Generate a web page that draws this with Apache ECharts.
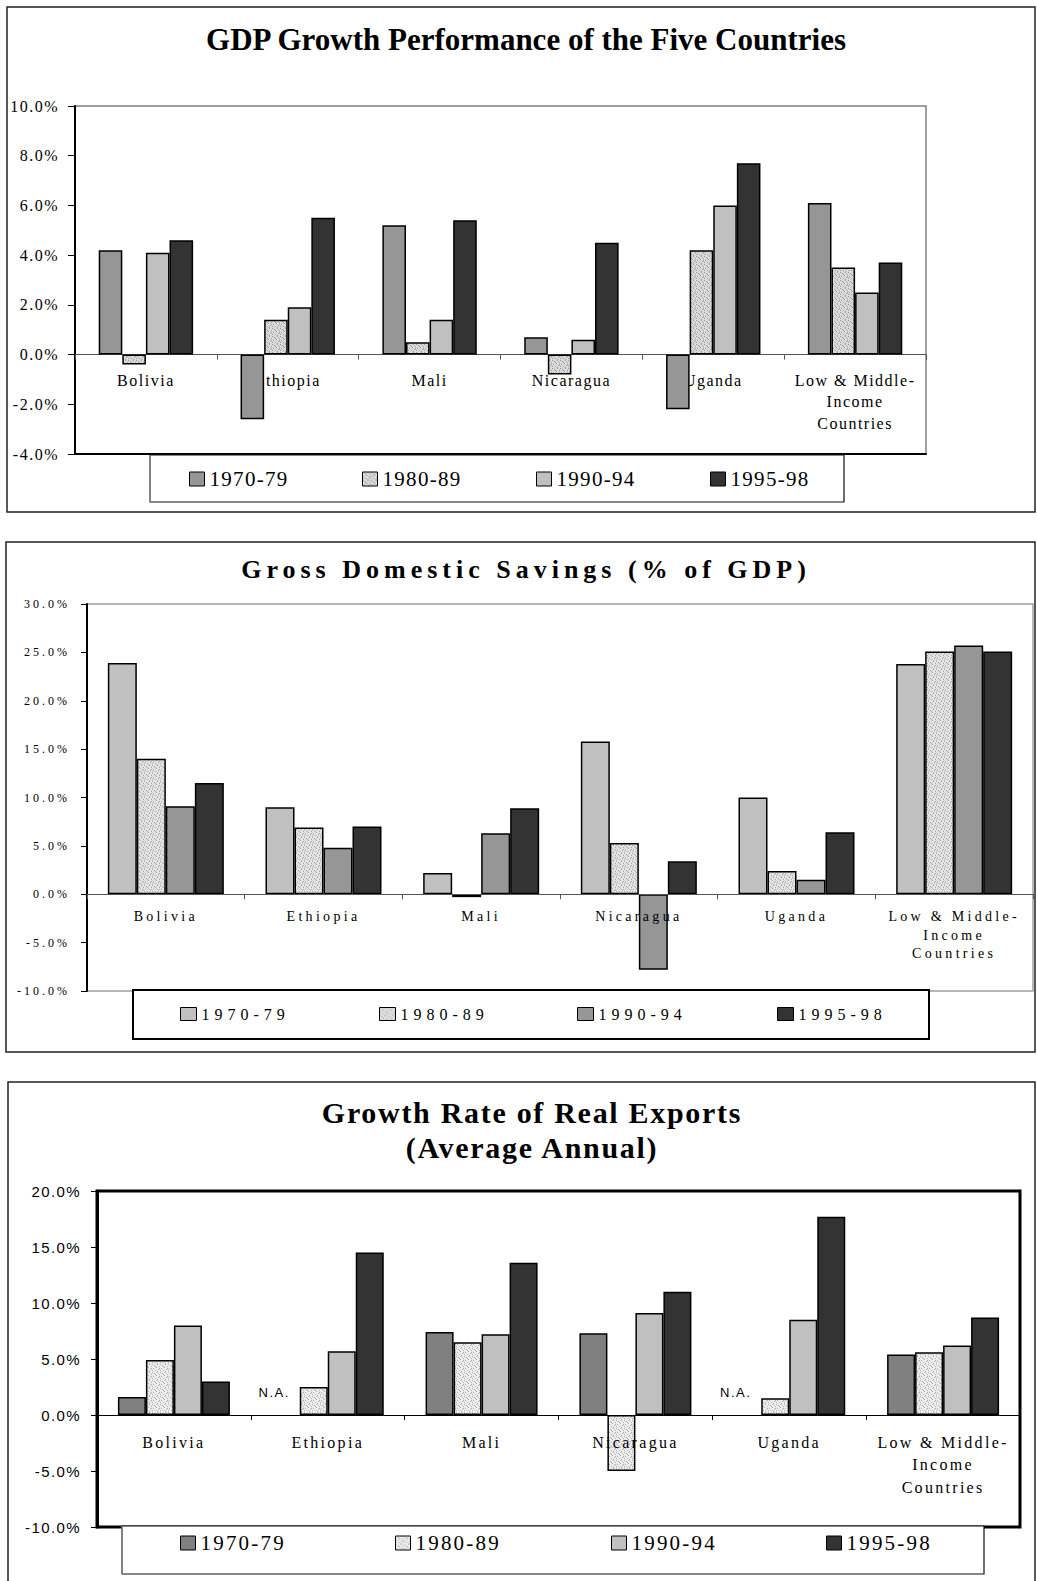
<!DOCTYPE html>
<html>
<head>
<meta charset="utf-8">
<title>Five Countries: GDP Growth, Savings and Exports</title>
<script src="https://cdn.jsdelivr.net/npm/echarts@6/dist/echarts.min.js"></script>
<style>
  html, body { margin: 0; padding: 0; background: #fff; }
  .panel { position: absolute; left: 0; width: 1037px; }
  #gdp { top: 0; height: 525px; }
  #sav { top: 525px; height: 535px; }
  #exp { top: 1060px; height: 521px; }
  /* tracking of the typeset labels, chosen per font size */
  #gdp text[style*="16px"] { letter-spacing: 1.5px; }
  #gdp text[style*="21px"] { letter-spacing: 1.3px; }
  #sav text[style*="26px"] { letter-spacing: 5px; }
  #sav text[style*="12px"] { letter-spacing: 3px; }
  #sav text[style*="14px"] { letter-spacing: 3.3px; }
  #sav text[style*="16px"] { letter-spacing: 5px; }
  #exp text[style*="30px"] { letter-spacing: 1.7px; }
  #exp text[style*="15px"] { letter-spacing: 1.4px; }
  #exp text[style*="16px"] { letter-spacing: 2.3px; }
  #exp text[style*="21px"] { letter-spacing: 2.2px; }
  #exp text[style*="13px"] { letter-spacing: 1.5px; }
</style>
</head>
<body>
<div id="gdp" class="panel"></div>
<div id="sav" class="panel"></div>
<div id="exp" class="panel"></div>
<script>
// ---- data ----
const categories = ['Bolivia', 'Ethiopia', 'Mali', 'Nicaragua', 'Uganda', 'Low & Middle-\nIncome\nCountries'];
const periods = ['1970-79', '1980-89', '1990-94', '1995-98'];

// GDP growth, average annual (%)
const gdp7079 = [4.2, -2.6, 5.2, 0.7, -2.2, 6.1];
const gdp8089 = [-0.4, 1.4, 0.5, -0.8, 4.2, 3.5];
const gdp9094 = [4.1, 1.9, 1.4, 0.6, 6.0, 2.5];
const gdp9598 = [4.6, 5.5, 5.4, 4.5, 7.7, 3.7];
const gdpTicks = [-4, -2, 0, 2, 4, 6, 8, 10];

// Gross domestic savings (% of GDP)
const sav7079 = [23.9, 9.0, 2.2, 15.8, 10.0, 23.8];
const sav8089 = [14.0, 6.9, -0.3, 5.3, 2.4, 25.1];
const sav9094 = [9.1, 4.8, 6.3, -7.8, 1.5, 25.7];
const sav9598 = [11.5, 7.0, 8.9, 3.4, 6.4, 25.1];
const savTicks = [-10, -5, 0, 5, 10, 15, 20, 25, 30];

// Growth rate of real exports, average annual (%); null = not available
const exp7079 = [1.6, null, 7.4, 7.3, null, 5.4];
const exp8089 = [4.9, 2.5, 6.5, -5.0, 1.5, 5.6];
const exp9094 = [8.0, 5.7, 7.2, 9.1, 8.5, 6.2];
const exp9598 = [3.0, 14.5, 13.6, 11.0, 17.7, 8.7];
const expTicks = [-10, -5, 0, 5, 10, 15, 20];
const notAvailable = 'N.A.';

// ---- styling helpers ----
const SERIF = 'Liberation Serif';
const SANS = 'Liberation Sans';
const pct = v => v.toFixed(1) + '%';

// fine stipple fill used for the 1980-89 bars
function stipple(bg, dot) {
  const c = document.createElement('canvas');
  c.width = 8; c.height = 8;
  const g = c.getContext('2d');
  g.fillStyle = bg; g.fillRect(0, 0, 8, 8);
  g.fillStyle = dot;
  [[0, 0], [5, 0], [2, 1], [7, 2], [4, 3], [1, 4], [6, 5], [3, 6], [0, 6], [5, 7], [3, 2], [7, 4]]
    .forEach(([x, y]) => g.fillRect(x, y, 1, 1));
  return { image: c, repeat: 'repeat' };
}

function bars(seriesValues, colors, width) {
  return seriesValues.map((values, i) => ({
    name: periods[i],
    type: 'bar',
    data: values,
    barWidth: width,
    barGap: '0%',
    itemStyle: { color: colors[i], borderColor: '#000', borderWidth: 1.5 },
    emphasis: { disabled: true }
  }));
}

function legends(lefts, top, iw, ih, fontSize) {
  return periods.map((p, i) => ({
    data: [p],
    left: lefts[i],
    top: top,
    padding: 0,
    itemWidth: iw,
    itemHeight: ih,
    icon: 'rect',
    selectedMode: false,
    itemStyle: { borderColor: '#000', borderWidth: 1 },
    textStyle: { fontFamily: SERIF, fontSize: fontSize, color: '#000' }
  }));
}

function valueAxis(ticks, opts) {
  return {
    type: 'value',
    min: ticks[0],
    max: ticks[ticks.length - 1],
    interval: ticks[1] - ticks[0],
    splitLine: { show: false },
    axisLine: { show: true, lineStyle: { color: '#000', width: opts.lineWidth } },
    axisTick: { show: true, inside: false, length: opts.tickLen, lineStyle: { color: '#000', width: 1 } },
    axisLabel: {
      formatter: pct, margin: opts.margin,
      fontFamily: opts.font, fontSize: opts.fontSize, color: '#000'
    }
  };
}

// category axis drawn along the zero line of the value axis, labels included
function categoryAxis(ticks, gridHeight, opts) {
  const lo = ticks[0], hi = ticks[ticks.length - 1];
  const zeroRise = gridHeight * (0 - lo) / (hi - lo);
  return {
    type: 'category',
    data: categories,
    position: 'bottom',
    offset: -zeroRise,
    z: opts.z,
    axisLine: { onZero: false, lineStyle: { color: opts.lineColor, width: 1 } },
    axisTick: { show: true, length: 5, lineStyle: { color: opts.lineColor, width: 1 } },
    axisLabel: {
      interval: 0, margin: opts.margin,
      fontFamily: SERIF, fontSize: opts.fontSize, lineHeight: opts.lineHeight, color: '#000'
    }
  };
}

function frame(x, y, w, h) {
  return { type: 'rect', silent: true, z: 0, shape: { x: x, y: y, width: w, height: h },
           style: { fill: 'none', stroke: '#222', lineWidth: 1.5 } };
}

// ---- chart 1: GDP growth ----
const gdpChart = echarts.init(document.getElementById('gdp'), null, { renderer: 'svg' });
gdpChart.setOption({
  animation: false,
  title: {
    text: 'GDP Growth Performance of the Five Countries',
    left: 526, top: 24, textAlign: 'center', padding: 0,
    textStyle: { fontFamily: SERIF, fontWeight: 'bold', fontSize: 31, color: '#000' }
  },
  grid: { left: 75, top: 106, width: 851, height: 348, show: true,
          borderColor: '#808080', borderWidth: 1.5, outerBoundsMode: 'none' },
  xAxis: [
    categoryAxis(gdpTicks, 348, { z: 0, lineColor: '#555', margin: 15, fontSize: 16, lineHeight: 21.5 }),
    { type: 'category', data: categories, position: 'bottom', offset: 0,
      axisLine: { onZero: false, lineStyle: { color: '#000', width: 2 } },
      axisTick: { show: false }, axisLabel: { show: false } }
  ],
  yAxis: valueAxis(gdpTicks, { lineWidth: 2, tickLen: 7, margin: 16, font: SERIF, fontSize: 16 }),
  legend: legends([189, 362, 536, 710], 468.5, 15, 14, 21),
  series: bars([gdp7079, gdp8089, gdp9094, gdp9598],
               ['#969696', stipple('#dadada', '#9a9a9a'), '#c0c0c0', '#333333'], 23.6),
  graphic: [
    frame(7, 7, 1028, 505),
    { type: 'rect', silent: true, z: 3,
      shape: { x: 150, y: 455, width: 694, height: 47 },
      style: { fill: '#fff', stroke: '#111', lineWidth: 1.2 } },
    { type: 'line', silent: true, z: 3, shape: { x1: 150, y1: 455, x2: 150, y2: 502 },
      style: { stroke: '#8a8a8a', lineWidth: 1.4 } }
  ]
});

// ---- chart 2: gross domestic savings ----
const savChart = echarts.init(document.getElementById('sav'), null, { renderer: 'svg' });
savChart.setOption({
  animation: false,
  title: {
    text: 'Gross Domestic Savings (% of GDP)',
    left: 526, top: 31.5, textAlign: 'center', padding: 0,
    textStyle: { fontFamily: SERIF, fontWeight: 'bold', fontSize: 26, color: '#000' }
  },
  grid: { left: 87, top: 79, width: 946, height: 387, show: true,
          borderColor: '#a0a0a0', borderWidth: 1.5, outerBoundsMode: 'none' },
  xAxis: categoryAxis(savTicks, 387, { z: 3, lineColor: '#555', margin: 13.4, fontSize: 14, lineHeight: 18.5 }),
  yAxis: valueAxis(savTicks, { lineWidth: 2, tickLen: 6, margin: 17, font: SERIF, fontSize: 12 }),
  legend: legends([180, 379, 577, 777], 481, 16, 13, 16),
  series: bars([sav7079, sav8089, sav9094, sav9598],
               ['#c0c0c0', stipple('#e2e2e2', '#a6a6a6'), '#969696', '#333333'], 29),
  graphic: [
    frame(6, 17, 1029, 510),
    { type: 'rect', silent: true, z: 3,
      shape: { x: 133, y: 465, width: 796, height: 49 },
      style: { fill: '#fff', stroke: '#000', lineWidth: 2 } }
  ]
});

// ---- chart 3: growth rate of real exports ----
const expChart = echarts.init(document.getElementById('exp'), null, { renderer: 'svg' });
expChart.setOption({
  animation: false,
  title: {
    text: 'Growth Rate of Real Exports\n(Average Annual)',
    left: 532, top: 34.5, textAlign: 'center', padding: 0,
    textStyle: { fontFamily: SERIF, fontWeight: 'bold', fontSize: 30, lineHeight: 35, color: '#000' }
  },
  grid: { left: 97, top: 131, width: 923, height: 336, show: true,
          borderColor: '#000', borderWidth: 3, outerBoundsMode: 'none' },
  xAxis: categoryAxis(expTicks, 336, { z: 3, lineColor: '#000', margin: 15.75, fontSize: 16, lineHeight: 22.5 }),
  yAxis: valueAxis(expTicks, { lineWidth: 3, tickLen: 6, margin: 16, font: SANS, fontSize: 15 }),
  legend: legends([180, 395, 611, 826], 472.5, 15, 14, 21),
  series: bars([exp7079, exp8089, exp9094, exp9598],
               ['#808080', stipple('#ececec', '#ababab'), '#c0c0c0', '#333333'], 28)
});

// "N.A." notes sit beside the missing 1970-79 bars, anchored on the zero line
const naNotes = [];
exp7079.forEach((v, i) => {
  if (v == null) {
    const p = expChart.convertToPixel({ gridIndex: 0 }, [i, 0]);
    naNotes.push({
      type: 'text', silent: true, z: 5, x: p[0] - 53.5, y: p[1] - 23,
      style: { text: notAvailable, fontFamily: SANS, fontSize: 13, fill: '#000',
               textAlign: 'center', textVerticalAlign: 'middle' }
    });
  }
});
expChart.setOption({
  graphic: [
    frame(8, 22, 1027, 540),
    { type: 'rect', silent: true, z: 3,
      shape: { x: 122, y: 466, width: 862, height: 48 },
      style: { fill: '#fff', stroke: '#111', lineWidth: 1.2 } },
    { type: 'line', silent: true, z: 3, shape: { x1: 122, y1: 466, x2: 122, y2: 514 },
      style: { stroke: '#8a8a8a', lineWidth: 1.4 } }
  ].concat(naNotes)
});
</script>
</body>
</html>
